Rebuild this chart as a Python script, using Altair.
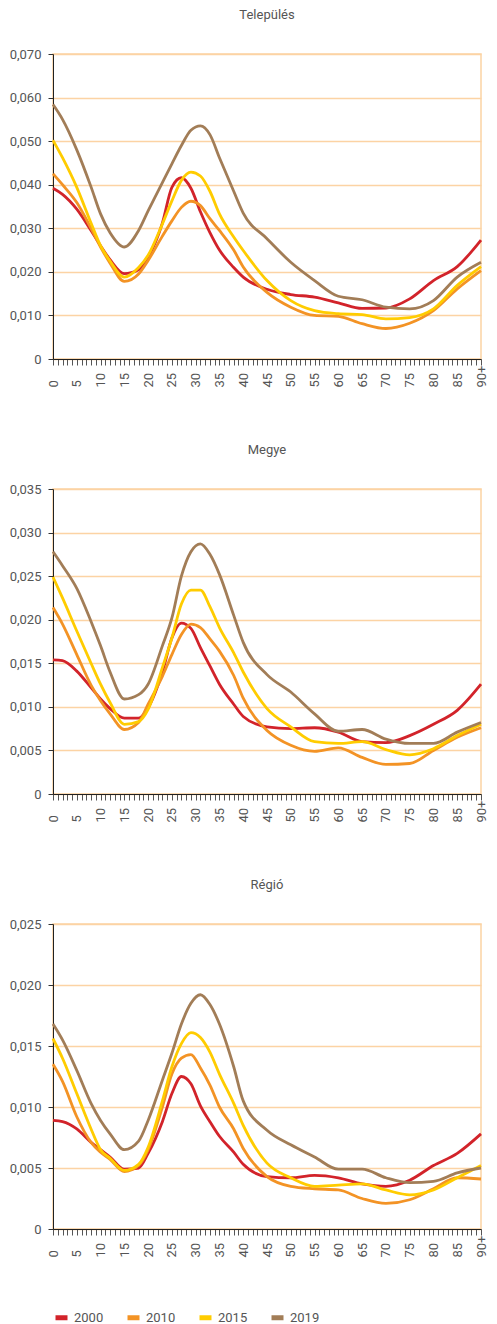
import altair as alt
import pandas as pd

AGES = [0, 2, 5, 8, 10, 12, 15, 18, 20, 23, 25, 27, 29, 31, 33, 35, 38, 40,
        45, 50, 55, 60, 65, 70, 75, 80, 85, 90]
YEARS = ["2000", "2010", "2015", "2019"]
COLORS = ["#d2232a", "#f39325", "#ffcc00", "#a27d57"]
PANELS = ["Település", "Megye", "Régió"]
Y_MAX = [0.070, 0.035, 0.025]
Y_STEP = [0.010, 0.005, 0.005]

# Település
T2000 = [0.0392, 0.0378, 0.0344, 0.0295, 0.0260, 0.0228, 0.0196, 0.0205, 0.0234, 0.0312, 0.0394, 0.0416, 0.0392, 0.0338,
         0.0290, 0.0250, 0.0210, 0.0188, 0.0160, 0.0148, 0.0142, 0.0129, 0.0116, 0.0117, 0.0138, 0.0180, 0.0212, 0.0273]
T2010 = [0.0425, 0.0400, 0.0359, 0.0300, 0.0257, 0.0220, 0.0178, 0.0195, 0.0226, 0.0282, 0.0317, 0.0348, 0.0362, 0.0352,
         0.0322, 0.0295, 0.0250, 0.0211, 0.0153, 0.0119, 0.0100, 0.0098, 0.0081, 0.0070, 0.0082, 0.0111, 0.0161, 0.0203]
T2015 = [0.0502, 0.0462, 0.0394, 0.0312, 0.0260, 0.0225, 0.0188, 0.0210, 0.0238, 0.0310, 0.0363, 0.0410, 0.0429, 0.0420,
         0.0385, 0.0333, 0.0280, 0.0249, 0.0180, 0.0134, 0.0111, 0.0104, 0.0102, 0.0092, 0.0095, 0.0115, 0.0169, 0.0212]
T2019 = [0.0584, 0.0550, 0.0480, 0.0395, 0.0333, 0.0290, 0.0257, 0.0295, 0.0340, 0.0405, 0.0448, 0.0490, 0.0525, 0.0535,
         0.0515, 0.0462, 0.0385, 0.0335, 0.0276, 0.0222, 0.0180, 0.0144, 0.0136, 0.0119, 0.0115, 0.0134, 0.0188, 0.0222]

# Megye
M2000 = [0.0154, 0.0153, 0.0141, 0.0122, 0.0109, 0.0098, 0.0087, 0.0087, 0.0099, 0.0140, 0.0179, 0.0196, 0.0190, 0.0168,
         0.0147, 0.0126, 0.0103, 0.0089, 0.0077, 0.0075, 0.0076, 0.0071, 0.0060, 0.0059, 0.0067, 0.0080, 0.0096, 0.0126]
M2010 = [0.0214, 0.0195, 0.0160, 0.0125, 0.0107, 0.0092, 0.0074, 0.0082, 0.0103, 0.0135, 0.0160, 0.0183, 0.0195, 0.0191,
         0.0178, 0.0164, 0.0136, 0.0110, 0.0073, 0.0056, 0.0049, 0.0053, 0.0042, 0.0034, 0.0035, 0.0050, 0.0065, 0.0076]
M2015 = [0.0249, 0.0225, 0.0187, 0.0150, 0.0126, 0.0105, 0.0080, 0.0083, 0.0097, 0.0145, 0.0179, 0.0218, 0.0234, 0.0234,
         0.0215, 0.0191, 0.0162, 0.0140, 0.0098, 0.0077, 0.0060, 0.0058, 0.0060, 0.0051, 0.0045, 0.0052, 0.0067, 0.0080]
M2019 = [0.0278, 0.0262, 0.0236, 0.0198, 0.0170, 0.0140, 0.0109, 0.0114, 0.0126, 0.0170, 0.0202, 0.0250, 0.0278, 0.0287,
         0.0275, 0.0252, 0.0205, 0.0174, 0.0137, 0.0117, 0.0092, 0.0072, 0.0074, 0.0063, 0.0058, 0.0058, 0.0071, 0.0082]

# Régió
R2000 = [0.0089, 0.0088, 0.0082, 0.0071, 0.0065, 0.0059, 0.0049, 0.0050, 0.0062, 0.0088, 0.0111, 0.0125, 0.0119, 0.0101,
         0.0088, 0.0076, 0.0063, 0.0053, 0.0043, 0.0042, 0.0044, 0.0042, 0.0037, 0.0035, 0.0040, 0.0052, 0.0062, 0.0078]
R2010 = [0.0135, 0.0121, 0.0092, 0.0071, 0.0063, 0.0057, 0.0047, 0.0052, 0.0065, 0.0100, 0.0127, 0.0140, 0.0143, 0.0132,
         0.0118, 0.0100, 0.0082, 0.0066, 0.0043, 0.0035, 0.0033, 0.0032, 0.0025, 0.0021, 0.0024, 0.0033, 0.0042, 0.0041]
R2015 = [0.0156, 0.0140, 0.0111, 0.0082, 0.0065, 0.0058, 0.0048, 0.0053, 0.0067, 0.0105, 0.0133, 0.0152, 0.0161, 0.0157,
         0.0145, 0.0127, 0.0103, 0.0085, 0.0054, 0.0042, 0.0035, 0.0036, 0.0037, 0.0032, 0.0028, 0.0032, 0.0042, 0.0052]
R2019 = [0.0168, 0.0155, 0.0130, 0.0103, 0.0089, 0.0078, 0.0065, 0.0072, 0.0089, 0.0122, 0.0144, 0.0168, 0.0185, 0.0192,
         0.0184, 0.0168, 0.0133, 0.0105, 0.0081, 0.0069, 0.0059, 0.0049, 0.0049, 0.0042, 0.0038, 0.0039, 0.0046, 0.0050]

SERIES = [[T2000, T2010, T2015, T2019], [M2000, M2010, M2015, M2019], [R2000, R2010, R2015, R2019]]

FONT = "Roboto"
TEXT = "#555555"
GRID = "#fcd3a4"


def panel(name, series, ymax, step):
    rows = []
    for yr, vals in zip(YEARS, series):
        for a, v in zip(AGES, vals):
            rows.append({"age": a, "value": v, "year": yr})
    df = pd.DataFrame(rows)
    n = int(round(ymax / step))
    yvals = [round(i * step, 4) for i in range(n + 1)]
    return alt.Chart(df, title=alt.Title(name, fontSize=13, font=FONT, color=TEXT, fontWeight="normal",
                                         frame="group", offset=20, dy=-6)).mark_line(
        interpolate="monotone", strokeWidth=2.8
    ).encode(
        x=alt.X("age:Q", title=None, scale=alt.Scale(domain=[0, 90], nice=False, zero=False),
                axis=alt.Axis(values=list(range(91)),
                              labelExpr="datum.value % 5 == 0 ? (datum.value == 90 ? '90+' : toString(datum.value)) : ''",
                              labelAngle=270, labelAlign="left", labelBaseline="middle", labelPadding=22,
                              labelOverlap=False, labelFlush=False, tickSize=6, tickColor="#555555",
                              domainColor="#222222", grid=False, labelFontSize=13, labelFont=FONT,
                              labelColor=TEXT)),
        y=alt.Y("value:Q", title=None, scale=alt.Scale(domain=[0, ymax], nice=False),
                axis=alt.Axis(values=yvals,
                              labelExpr="datum.value == 0 ? '0' : replace(format(datum.value, '.3f'), '.', ',')",
                              tickSize=5, tickColor="#333333", domainColor="#222222", labelPadding=7,
                              gridColor=GRID, gridWidth=1.5, labelFontSize=13, labelFont=FONT,
                              labelColor=TEXT)),
        color=alt.Color("year:N", scale=alt.Scale(domain=YEARS, range=COLORS),
                        legend=alt.Legend(title=None, orient="bottom", direction="horizontal",
                                          symbolType="stroke", symbolStrokeWidth=5, symbolSize=144,
                                          labelFontSize=13, labelFont=FONT, labelColor=TEXT,
                                          columnPadding=13, offset=51)),
    ).properties(width=428, height=305)


charts = [panel(PANELS[i], SERIES[i], Y_MAX[i], Y_STEP[i]) for i in range(3)]

chart = alt.vconcat(*charts, spacing=55).properties(
    padding={"left": 0, "top": 0, "right": 0, "bottom": 0}
).configure_view(stroke=GRID, strokeWidth=1.5)

chart.save("out.html", embed_options={"renderer": "svg", "actions": False})
